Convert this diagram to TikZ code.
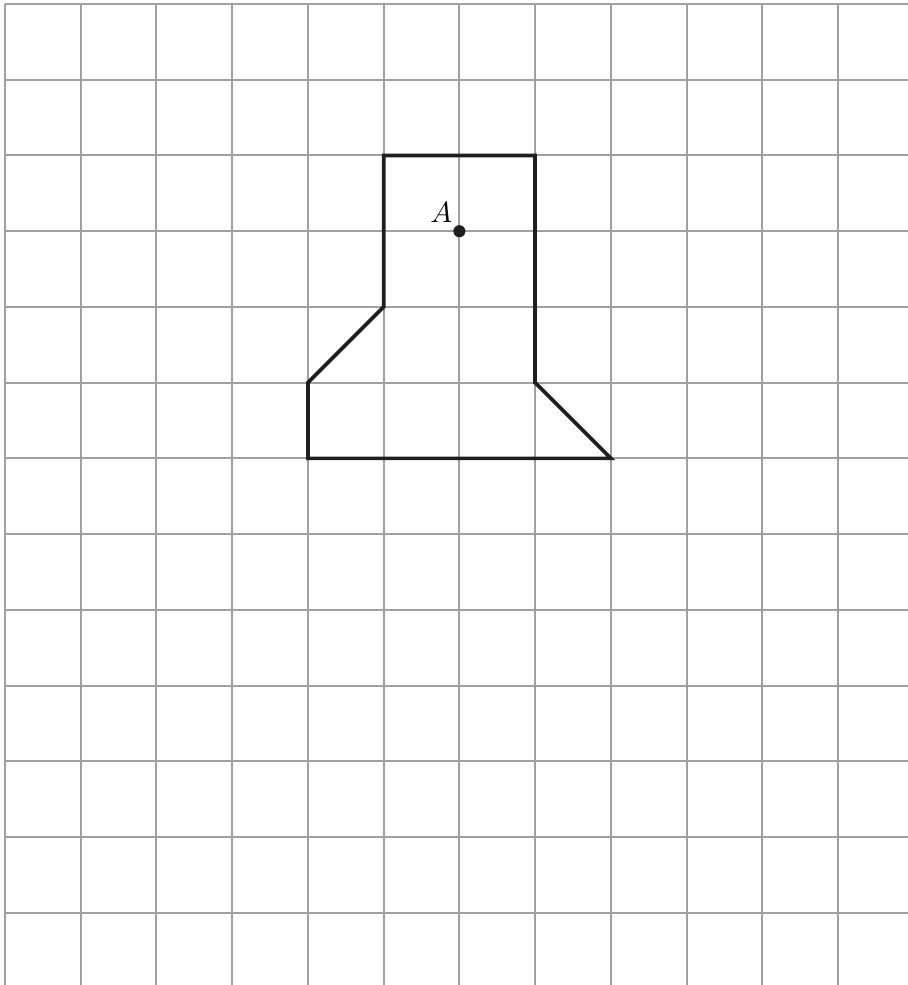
\documentclass[tikz,border=0pt]{standalone}
\usepackage{tikz}
\usetikzlibrary{calc}
\definecolor{gridgray}{RGB}{160,160,164}
\tikzset{
  gridline/.style={line width=0.75pt, color=gridgray},
  outline/.style={line width=1.4pt, color=black!88, line join=miter},
}

\begin{document}
\begin{tikzpicture}
			%%%%% START %%%%%
			\useasboundingbox (-0.066, -12.954) rectangle (11.924, 0.053);
			
			\foreach \y in {0,...,12}
				\draw[gridline] (0, -\y) -- (11.924, -\y);
			\foreach \x in {0,...,11}
				\draw[gridline] (\x, 0) -- (\x, -12.954);
			
			\draw[outline] (5, -2) -- (7, -2) -- (7, -5) -- (8, -6) -- (4, -6) -- (4, -5) -- (5, -4) -- cycle;
			
			\fill[black!88] (6, -3) circle (0.08);
			\node (A) at (5.76, -2.75) {\fontsize{11}{13}\selectfont$A$};
			
			%%%%% END %%%%%
\end{tikzpicture}
\end{document}
